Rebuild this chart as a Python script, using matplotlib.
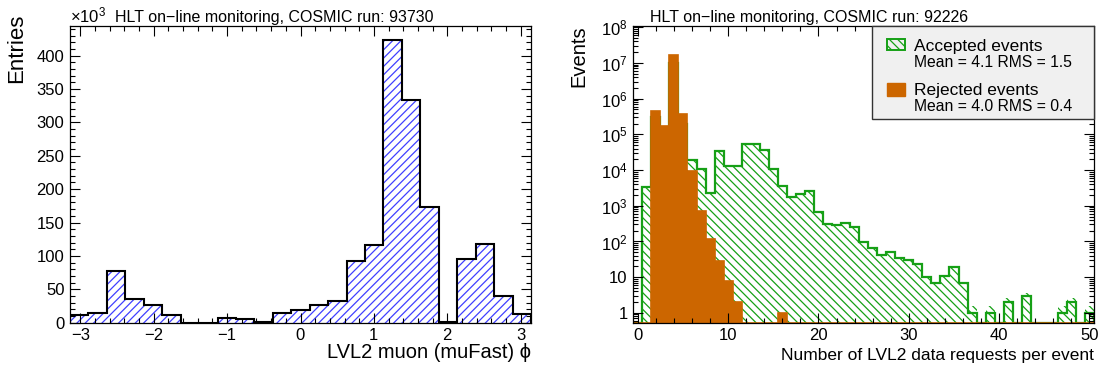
import numpy as np
import matplotlib
matplotlib.use("Agg")
import matplotlib.pyplot as plt
from matplotlib.patches import Rectangle
from matplotlib.ticker import MultipleLocator, FixedLocator, FuncFormatter, LogLocator, NullFormatter

plt.rcParams['font.family'] = ['Liberation Sans', 'DejaVu Sans']
plt.rcParams['mathtext.fontset'] = 'custom'
plt.rcParams['mathtext.rm'] = 'Liberation Sans'
plt.rcParams['mathtext.it'] = 'Liberation Sans'
plt.rcParams['mathtext.default'] = 'regular'
plt.rcParams['hatch.linewidth'] = 0.9

# ---- left: muFast phi (entries in thousands)
phi_counts = [11, 14, 78, 36, 27, 11, 0, 0, 6.5, 6, 1, 15, 19, 26, 32,
              92, 117, 423, 333, 173, 1, 95, 118, 40, 13]
phi_edges = np.linspace(-np.pi, np.pi, len(phi_counts) + 1)

# ---- right: number of LVL2 data requests per event
nreq = np.arange(51)
accepted = [0, 3400, 3e5, 1e5, 1e7, 2e5, 19000, 10700, 2280, 33200, 13200, 12700,
            52000, 54300, 36900, 10700, 3580, 1730, 2140, 2540, 687, 311, 298, 325,
            251, 96, 67, 41, 50, 35, 31, 23, 10, 7, 11, 19, 7, 1, 0, 1, 0, 2,
            0, 3, 0, 0, 0, 1, 2, 0, 1]
rejected = [0, 0, 4.5e5, 1.7e5, 1.7e7, 3.7e5, 9600, 730, 119, 28, 8, 2,
            0, 0, 0, 0, 1] + [0] * 34

blue = '#4040ff'
green = '#16a016'
orange = '#cc6600'

W, H = 1099, 370
fig = plt.figure(figsize=(W / 100, H / 100), dpi=100)


def box(x0, y0, x1, y1):
    # pixel box (top-left origin) -> figure fraction rect
    return [x0 / W, 1 - y1 / H, (x1 - x0) / W, (y1 - y0) / H]


def root_ticks(ax):
    ax.tick_params(which='both', direction='in', top=True, right=True,
                   labelsize=12, width=0.8, pad=4)
    ax.tick_params(which='major', length=7)
    ax.tick_params(which='minor', length=3.5)
    for s in ax.spines.values():
        s.set_linewidth(0.9)


# left pad
ax1 = fig.add_axes(box(70, 25.5, 531, 322.7))
ax1.bar(phi_edges[:-1], phi_counts, width=np.diff(phi_edges), align='edge',
        facecolor='none', edgecolor=blue, linewidth=0, hatch='////')
ax1.stairs(phi_counts, phi_edges, color='black', linewidth=1.5, baseline=0)
ax1.set_xlim(-np.pi, np.pi)
ax1.set_ylim(0, 445)
ax1.xaxis.set_major_locator(MultipleLocator(1))
ax1.xaxis.set_minor_locator(MultipleLocator(0.2))
ax1.yaxis.set_major_locator(MultipleLocator(50))
ax1.yaxis.set_minor_locator(MultipleLocator(10))
root_ticks(ax1)
ax1.set_ylabel('Entries', fontsize=16, loc='top')
ax1.yaxis.set_label_coords(-0.094, 1.04)
ax1.set_xlabel('LVL2 muon (muFast) \u03d5', fontsize=14.5, loc='right')
ax1.xaxis.set_label_coords(1.0, -0.068)
fig.text(70 / W, 1 - 22 / H, r'$\times10^{3}$', fontsize=12, va='baseline')
fig.text(115 / W, 1 - 22 / H, 'HLT on\u2212line monitoring, COSMIC run: 93730',
         fontsize=11.5, va='baseline')

# right pad
ymin, ymax = 0.53, 1.12e8
ax2 = fig.add_axes(box(633.3, 25.5, 1094, 322.7))
ax2.set_yscale('log')
edges = np.append(nreq - 0.5, nreq[-1] + 0.5)
acc = np.array(accepted, dtype=float)
rej = np.array(rejected, dtype=float)
ax2.bar(nreq, np.where(acc > 0, acc, np.nan), width=1, bottom=ymin,
        facecolor='none', edgecolor=green, linewidth=0, hatch='\\\\\\\\')
ax2.stairs(np.where(acc > 0, acc, ymin), edges, color=green, linewidth=1.6,
           baseline=ymin)
ax2.stairs(np.where(rej > 0, rej, ymin), edges, fill=True, color=orange,
           baseline=ymin)
ax2.stairs(np.where(rej > 0, rej, ymin), edges, color=orange, linewidth=1.2,
           baseline=ymin)
ax2.set_xlim(-0.5, 50.5)
ax2.set_ylim(ymin, ymax)
ax2.xaxis.set_major_locator(MultipleLocator(10))
ax2.xaxis.set_minor_locator(MultipleLocator(2))
ax2.yaxis.set_major_locator(FixedLocator([10.0 ** k for k in range(9)]))
ax2.yaxis.set_minor_locator(LogLocator(base=10, subs=np.arange(2, 10), numticks=20))
ax2.yaxis.set_minor_formatter(NullFormatter())


def log_label(v, pos):
    k = int(round(np.log10(v)))
    if k == 0:
        return '1'
    if k == 1:
        return '10'
    return r'$10^{%d}$' % k


ax2.yaxis.set_major_formatter(FuncFormatter(log_label))
root_ticks(ax2)
ax2.set_ylabel('Events', fontsize=14.5, loc='top')
ax2.yaxis.set_label_coords(-0.097, 1.0)
ax2.set_xlabel('Number of LVL2 data requests per event', fontsize=12.5, loc='right')
ax2.xaxis.set_label_coords(1.0, -0.085)
fig.text(650 / W, 1 - 22 / H, 'HLT on\u2212line monitoring, COSMIC run: 92226',
         fontsize=11.5, va='baseline')

# legend box drawn like the ROOT TLegend
fig.add_artist(Rectangle((872 / W, 1 - 119 / H), 222 / W, 93.5 / H,
                         transform=fig.transFigure, facecolor='#f0f0f0',
                         edgecolor='#333333', linewidth=1.0, zorder=5))
fig.add_artist(Rectangle((887 / W, 1 - 50 / H), 18 / W, 11 / H,
                         transform=fig.transFigure, facecolor='none',
                         edgecolor=green, linewidth=1.4, hatch='\\\\\\\\', zorder=6))
fig.add_artist(Rectangle((887 / W, 1 - 96 / H), 18 / W, 13 / H,
                         transform=fig.transFigure, facecolor=orange,
                         edgecolor=orange, linewidth=1.0, zorder=6))
fig.text(914 / W, 1 - 51 / H, 'Accepted events', fontsize=12.5, va='baseline', zorder=7)
fig.text(914 / W, 1 - 67 / H, 'Mean = 4.1 RMS = 1.5', fontsize=11.3, va='baseline', zorder=7)
fig.text(914 / W, 1 - 95 / H, 'Rejected events', fontsize=12.5, va='baseline', zorder=7)
fig.text(914 / W, 1 - 111 / H, 'Mean = 4.0 RMS = 0.4', fontsize=11.3, va='baseline', zorder=7)

fig.savefig('out.png', dpi=100)
